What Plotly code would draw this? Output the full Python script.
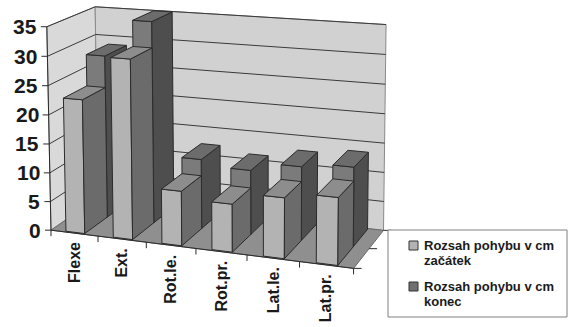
import numpy as np
import plotly.graph_objects as go

# ---- data -------------------------------------------------------------
categories = ["Flexe", "Ext.", "Rot.le.", "Rot.pr.", "Lat.le.", "Lat.pr."]
zacatek = [23, 30.5, 9.2, 8, 10, 11]        # series 1 (front row)
konec = [28.5, 35, 12, 11, 12.5, 13.3]      # series 2 (back row)
series_labels = [["Rozsah pohybu v cm", "začátek"], ["Rozsah pohybu v cm", "konec"]]
y_ticks = [0, 5, 10, 15, 20, 25, 30, 35]

# ---- layout / style ---------------------------------------------------
W, H = 569, 327
V_MAX = 35
N = len(categories)
FONT = "Liberation Sans, Arial, sans-serif"

# frame corners of the 3-D box (category position, depth, value) -> page px;
# a perspective camera matrix is solved from these
FRAME_POINTS = [
    ((0, 0, 0), (52, 229)),
    ((0, 0, 35), (46, 25)),
    ((0, 1, 35), (96, 8)),
    ((0, 1, 0), (96, 199)),
    ((6, 1, 35), (386, 25)),
    ((6, 1, 0), (385, 227)),
    ((6, 0, 0), (352, 270)),
    ((1, 0, 0), (99, 235.4)),
    ((2, 0, 0), (147, 242)),
    ((3, 0, 0), (196, 248.7)),
    ((4, 0, 0), (247, 255.7)),
    ((5, 0, 0), (299, 262.8)),
]

BAR_U = (0.3, 0.7)                      # bar span inside a category slot
ROW_D = [(0.02, 0.5), (0.5, 0.98)]      # depth span of each series row

STYLE = [
    dict(front="#b3b3b3", top="#8d8d8d", side="#6b6b6b", swatch="#b3b3b3"),
    dict(front="#7b7b7b", top="#6c6c6c", side="#4e4e4e", swatch="#707070"),
]
EDGE = "#2b2b2b"


def fit_camera(points):
    rows = []
    for (u, d, v), (x, y) in points:
        X = [u, d, v / 5.0, 1.0]
        xs, ys = x / 100.0, y / 100.0
        rows.append(X + [0, 0, 0, 0] + [-xs * a for a in X])
        rows.append([0, 0, 0, 0] + X + [-ys * a for a in X])
    _, _, vt = np.linalg.svd(np.array(rows, dtype=float))
    return vt[-1].reshape(3, 4)


P = fit_camera(FRAME_POINTS)


def proj(u, d, v):
    h = P @ np.array([u, d, v / 5.0, 1.0])
    return h[0] / h[2] * 100.0, h[1] / h[2] * 100.0


fig = go.Figure()


def poly(pts3, fill, line=EDGE, width=1):
    xy = [proj(*p) for p in pts3]
    xs = [p[0] for p in xy] + [xy[0][0]]
    ys = [p[1] for p in xy] + [xy[0][1]]
    fig.add_trace(go.Scatter(x=xs, y=ys, mode="lines", fill="toself",
                             fillcolor=fill, line=dict(color=line, width=width),
                             hoverinfo="skip", showlegend=False))


def lines(segments, color, width=1):
    xs, ys = [], []
    for a, b in segments:
        xs += [a[0], b[0], None]
        ys += [a[1], b[1], None]
    fig.add_trace(go.Scatter(x=xs, y=ys, mode="lines",
                             line=dict(color=color, width=width),
                             hoverinfo="skip", showlegend=False))


# walls and floor
poly([(0, 0, 0), (0, 1, 0), (0, 1, V_MAX), (0, 0, V_MAX)], "#d9d9d9", "#8a8a8a")
poly([(0, 1, 0), (N, 1, 0), (N, 1, V_MAX), (0, 1, V_MAX)], "#d1d1d1", "#8a8a8a")

grid = []
for t in y_ticks[1:]:
    grid.append((proj(0, 0, t), proj(0, 1, t)))
    grid.append((proj(0, 1, t), proj(N, 1, t)))
lines(grid, "#3a3a3a", 1)

poly([(0, 0, 0), (N, 0, 0), (N, 1, 0), (0, 1, 0)], "#8f8f8f", "#6a6a6a")

# value axis, its ticks, category ticks and depth ticks
axis = [(proj(0, 0, 0), proj(0, 0, V_MAX))]
for t in y_ticks:
    x, y = proj(0, 0, t)
    axis.append(((x, y), (x - 6, y)))
for i in range(N + 1):
    x, y = proj(i, 0, 0)
    axis.append(((x, y), (x, y + 6)))
axis.append((proj(0, 0, 0), proj(N, 0, 0)))
for d in (0, 0.5, 1):
    x, y = proj(N, d, 0)
    axis.append(((x, y), (x + 8, y)))
lines(axis, "#2b2b2b", 1)

# columns: back row first, left to right, then the front row
for s in (1, 0):
    vals = konec if s == 1 else zacatek
    d0, d1 = ROW_D[s]
    st = STYLE[s]
    for i, v in enumerate(vals):
        u0, u1 = i + BAR_U[0], i + BAR_U[1]
        poly([(u0, d0, 0), (u1, d0, 0), (u1, d0, v), (u0, d0, v)], st["front"])
        poly([(u1, d0, 0), (u1, d1, 0), (u1, d1, v), (u1, d0, v)], st["side"])
        poly([(u0, d0, v), (u1, d0, v), (u1, d1, v), (u0, d1, v)], st["top"])

annotations = []
for t in y_ticks:
    x, y = proj(0, 0, t)
    annotations.append(dict(x=x - 8, y=y, text=f"<b>{t}</b>", showarrow=False,
                            xanchor="right", yanchor="middle",
                            font=dict(family=FONT, size=21, color="#1a1a1a")))
for i, name in enumerate(categories):
    x, y = proj(i + 0.5, 0, 0)
    annotations.append(dict(x=x, y=y + 7, text=f"<b>{name}</b>", showarrow=False,
                            textangle=-90, xanchor="center", yanchor="top",
                            font=dict(family=FONT, size=16, color="#1a1a1a")))

# legend
shapes = [dict(type="rect", x0=388, x1=567, y0=230, y1=317, xref="x", yref="y",
               line=dict(color="#808080", width=1), fillcolor="white", layer="above")]
legend_rows = [(245, 260), (286, 301)]
swatch_y = [241, 282]
for s in range(2):
    shapes.append(dict(type="rect", x0=409, x1=418, y0=swatch_y[s], y1=swatch_y[s] + 9,
                       xref="x", yref="y", line=dict(color="#333333", width=1),
                       fillcolor=STYLE[s]["swatch"], layer="above"))
    for line_text, ly in zip(series_labels[s], legend_rows[s]):
        annotations.append(dict(x=422, y=ly, text=f"<b>{line_text}</b>", showarrow=False,
                                xanchor="left", yanchor="middle",
                                font=dict(family=FONT, size=13, color="#1a1a1a")))

fig.update_layout(
    width=W, height=H, margin=dict(l=0, r=0, t=0, b=0),
    paper_bgcolor="white", plot_bgcolor="white",
    xaxis=dict(range=[0, W], visible=False, fixedrange=True),
    yaxis=dict(range=[H, 0], visible=False, fixedrange=True),
    annotations=annotations, shapes=shapes, showlegend=False,
)

fig.write_html("out.html")
